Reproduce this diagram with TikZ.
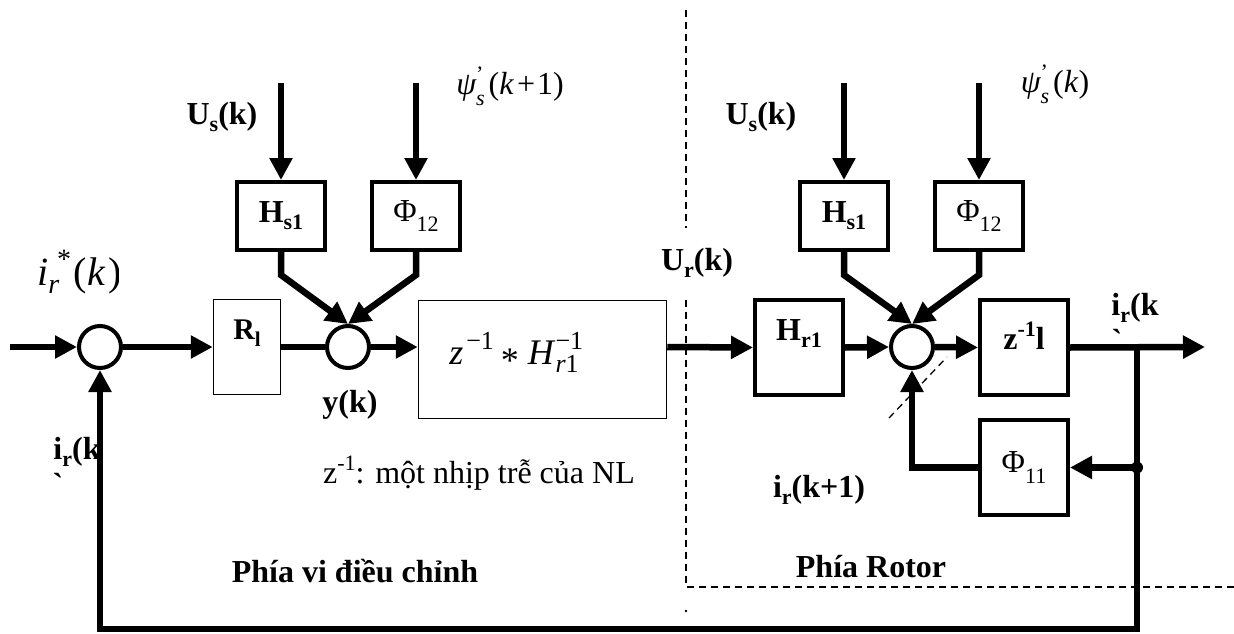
\documentclass[tikz,border=0pt]{standalone}
\usepackage{fontspec}
\setmainfont{Liberation Serif}
\newfontfamily\rawser{Liberation Serif}
\usetikzlibrary{arrows.meta,calc}
\newcommand\dn[2][22]{\raisebox{-0.22em}{\fontsize{#1}{#1}\selectfont #2}}
\newcommand\dnn[2][22]{\raisebox{-0.34em}{\fontsize{#1}{#1}\selectfont #2}}
\newcommand\up[2][22]{\raisebox{0.42em}{\fontsize{#1}{#1}\selectfont #2}}
\tikzset{
  thk/.style={line width=6.5pt,line join=miter},
  arr/.style={thk,-{Triangle[length=22pt,width=22pt]}},
  lbl/.style={font=\fontsize{32}{36}\selectfont\bfseries,inner sep=0pt},
  rg/.style={font=\fontsize{32}{36}\selectfont,inner sep=0pt},
  blk/.style={draw,line width=4pt,inner sep=0pt,minimum width=88pt,minimum height=95pt},
  sblk/.style={blk,minimum height=68pt},
  thinbox/.style={draw,line width=1.5pt,inner sep=0pt},
  sumc/.style={draw,circle,line width=4pt,minimum size=42pt,inner sep=0pt},
  dsh/.style={line width=1.3pt,dash pattern=on 7pt off 5pt}
}
\begin{document}
\begin{tikzpicture}[x=1pt,y=-1pt]
\path[use as bounding box] (0,0) rectangle (1234,634);

% dashed separators
\draw[dsh] (686,10) -- (686,228);
\draw[dsh] (686,300) -- (686,587) -- (1234,587);
\draw[dsh] (889,418) -- (947,357);
\fill (686,611) circle (1.3pt);

% labels drawn first (lines pass over them)
\node[lbl] (irkl) at (77,452) {i\dn{r}(k};
\node[lbl,font=\fontsize{32}{36}\rawser\bfseries] (tickl) at (58,484) {`};
\begin{scope}
  \clip (30,225) rectangle (118,320);
  \node[font=\fontsize{40}{44}\selectfont,inner sep=0pt,anchor=west] (iref) at (37,272)
    {\itshape i\dn[28]{r}\kern-2pt\up[28]{\upshape *}\kern2pt\upshape(\kern1pt\textit{k}\kern3pt)};
\end{scope}

% summing junctions
\node[sumc] (c1) at (100,347) {};
\node[sumc] (c2) at (348,347) {};
\node[sumc] (c3) at (912,347) {};

% blocks
\node[thinbox,minimum width=67pt,minimum height=95pt,
      label={[lbl,font=\fontsize{30}{34}\selectfont\bfseries,yshift=14pt]center:R\dn[21]{l}}] (Rl) at (247,347) {};
\node[thinbox,minimum width=248pt,minimum height=118pt] (BB) at (542.5,359.5) {};
\node[font=\fontsize{36}{40}\selectfont,inner sep=0pt] (BBt) at (514,352)
  {\textit{z}\kern3pt\up[26]{−1}\kern7pt\raisebox{-0.22em}{*}\kern9pt\textit{H}\rlap{\up[26]{−1}}\dn[26]{\textit{r}1}};

\node[sblk,lbl] (Hs1a) at (281,216) {H\dn{s1}};
\node[sblk,rg] (P12a) at (416,216) {Φ\dnn{12}};
\node[sblk,lbl] (Hs1b) at (844,216) {H\dn{s1}};
\node[sblk,rg] (P12b) at (979,216) {Φ\dnn{12}};

\node[blk,label={[lbl,yshift=14pt]center:H\dn{r1}}] (Hr1) at (799,347.5) {};
\node[blk,label={[lbl,yshift=12pt]center:z\up{-1}l}] (Z) at (1024,347.5) {};
\node[blk,rg] (P11) at (1024,467.5) {Φ\dnn{11}};

% text labels
\node[lbl] (us1) at (222,117) {U\dn{s}(k)};
\node[lbl] (us2) at (761,117) {U\dn{s}(k)};
\node[rg] (psi1) at (510,86) {\itshape ψ\rlap{\up{\upshape '}}\dnn{s}\kern4pt\upshape(\textit{k}\kern3pt+\kern2pt1)};
\node[rg] (psi2) at (1055,84) {\itshape ψ\rlap{\up{\upshape '}}\dnn{s}\kern4pt\upshape(\textit{k})};
\node[lbl] (ur) at (697,263) {U\dn{r}(k)};
\node[lbl] (yk) at (350,405) {y(k)};
\node[lbl] (irk1) at (819,490) {i\dn{r}(k+1)};
\node[lbl] (irkr) at (1135,308) {i\dn{r}(k};
\node[lbl,font=\fontsize{32}{36}\rawser\bfseries] (tickr) at (1117,340) {`};
\node[rg,anchor=west] (note) at (323,473) {z\up{-1}: một nhịp trễ của NL};
\node[lbl] (side1) at (355,571) {Phía vi điều chỉnh};
\node[lbl] (side2) at (871,567) {Phía Rotor};

% coordinates
\coordinate (in) at (10,347);
\coordinate (out) at (1205,347);
\coordinate (t1) at (281,83);
\coordinate (t2) at (416,83);
\coordinate (t3) at (844,83);
\coordinate (t4) at (979,83);
\coordinate (J1) at (1137,347);
\coordinate (J2) at (1137,467.5);
\coordinate (B1) at (1137,629);
\coordinate (B2) at (100,629);

% main path
\draw[arr] (in) -- (c1.west);
\draw[arr] (c1.east) -- (Rl.west);
\draw[thk] (Rl.east) -- (c2.west);
\draw[arr] (c2.east) -- (c2.east -| BB.west);
\draw[arr] (BB.east |- c2) -- (Hr1.west);
\draw[arr] (Hr1.east) -- (c3.west);
\draw[arr] (c3.east) -- (Z.west);
\draw[arr] (Z.east) -- (out);

% top inputs
\draw[arr] (t1) -- (Hs1a.north);
\draw[arr] (t2) -- (P12a.north);
\draw[arr] (t3) -- (Hs1b.north);
\draw[arr] (t4) -- (P12b.north);
\draw[arr] (Hs1a.south) -- ($(Hs1a.south)+(0,23)$) -- (c2.north);
\draw[arr] (P12a.south) -- ($(P12a.south)+(0,23)$) -- (c2.north);
\draw[arr] (Hs1b.south) -- ($(Hs1b.south)+(0,23)$) -- (c3.north);
\draw[arr] (P12b.south) -- ($(P12b.south)+(0,23)$) -- (c3.north);

% feedback paths
\draw[arr] (J1) -- (B1) -- (B2) -- (c1.south);
\draw[arr] (J2) -- (P11.east);
\draw[arr] (P11.west) -| (c3.south);
\fill (J2) circle (6pt);
\end{tikzpicture}
\end{document}
